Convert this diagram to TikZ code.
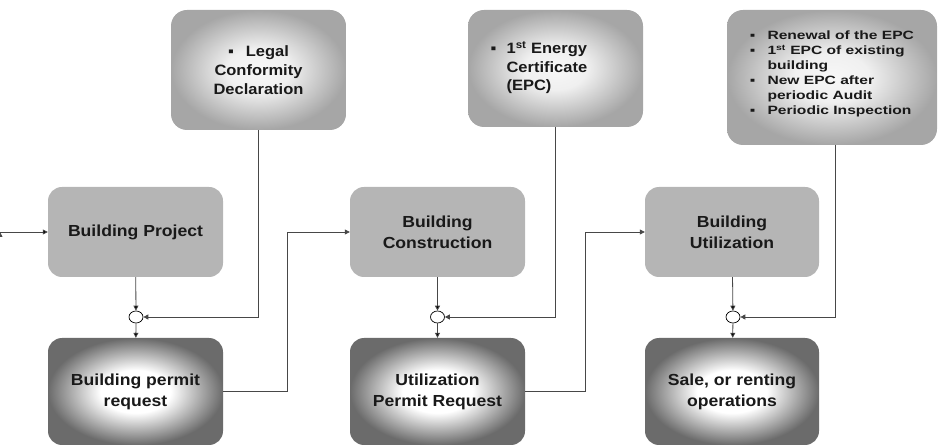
\documentclass[tikz,border=0pt]{standalone}
\usepackage{fontspec}
\setmainfont{Liberation Sans}
\newfontfamily\boxfont[FakeStretch=1.1]{Liberation Sans}
\newfontfamily\listfont[FakeStretch=1.3]{Liberation Sans}
\usetikzlibrary{calc,positioning,arrows.meta,shapes.geometric}

\pgfdeclareradialshading{topglow}{\pgfpoint{0bp}{0bp}}{gray(0bp)=(0.97); gray(9bp)=(0.94); gray(25bp)=(0.65); gray(50bp)=(0.65)}
\pgfdeclareradialshading{lowglow}{\pgfpoint{0bp}{0bp}}{gray(0bp)=(1); gray(10bp)=(1); gray(25bp)=(0.42); gray(50bp)=(0.42)}

\tikzset{
    boxbase/.style={rounded corners=14pt, inner sep=2pt, align=center, text=black!90,
        font=\boxfont\bfseries\fontsize{16}{21}\selectfont},
    stagebox/.style={boxbase, fill=black!29, minimum width=175pt, minimum height=90pt},
    permitbox/.style={boxbase, shading=lowglow, minimum width=175pt, minimum height=107pt},
    notebox/.style={boxbase, rounded corners=16pt, shading=topglow, minimum width=175pt,
        font=\boxfont\bfseries\fontsize{15}{18.7}\selectfont},
    joint/.style={ellipse, draw=black, fill=white, line width=0.7pt, minimum width=14pt,
        minimum height=12pt, inner sep=0pt},
    flow/.style={->, draw=black!72, line width=0.8pt}
}

\begin{document}
\begin{tikzpicture}[x=1pt,y=-1pt,>={Triangle[length=5pt,width=5pt]}]

    \useasboundingbox (0,0) rectangle (938,446);

    % middle row
    \node (proj) [stagebox] at (135.5,232) {Building Project};
    \node (constr) [stagebox] at ($(proj)+(302,0)$) {Building\\Construction};
    \node (util) [stagebox, minimum width=174pt] at ($(constr)+(294.5,0)$) {Building\\Utilization};

    % bottom row
    \node (permit) [permitbox] at ($(proj)+(0,159.5)$) {Building permit\\request};
    \node (utilreq) [permitbox] at ($(constr)+(0,159.5)$) {Utilization\\Permit Request};
    \node (sale) [permitbox, minimum width=174pt] at ($(util)+(0,159.5)$) {Sale, or renting\\operations};

    % junctions
    \node (j1) [joint] at ($(proj)+(0.5,85)$) {};
    \node (j2) [joint] at ($(constr)+(0,85)$) {};
    \node (j3) [joint] at ($(util)+(1,85)$) {};

    % top row
    \node (legal) [notebox, minimum height=120pt] at ($(proj)+(123,-162)$)
        {▪\hspace{12pt}Legal\\Conformity\\Declaration};
    \node (epc) [notebox, minimum height=117pt] at ($(constr)+(118,-163.5)$)
        {\begin{tabular}{@{}l@{\hspace{10pt}}l@{\hspace{33pt}}}
            ▪ & 1\textsuperscript{st} Energy\\
              & Certificate\\
              & (EPC)
        \end{tabular}};
    \node (renew) [notebox, minimum width=210pt, minimum height=135pt,
        font=\listfont\bfseries\fontsize{12}{15}\selectfont] at (832,77.5)
        {\begin{tabular}{@{}l@{\hspace{12pt}}l@{}}
            ▪ & Renewal of the EPC\\
            ▪ & 1\textsuperscript{st} EPC of existing\\
              & building\\
            ▪ & New EPC after\\
              & periodic Audit\\
            ▪ & Periodic Inspection\\[6pt]
        \end{tabular}};

    \coordinate (entry) at (0,232);

    \path[flow]
        (entry) edge (proj.west)

        (proj) edge (j1)
        (j1) edge (permit)

        (constr) edge (j2)
        (j2) edge (utilreq)

        (util) edge (j3)
        (j3) edge (sale)
    ;

    \draw[flow] (legal) |- (j1);
    \draw[flow] (epc) |- (j2);
    \draw[flow] ([xshift=3pt]renew.south) |- (j3);

    \draw[flow] (permit.east) -- ++(64,0) |- (constr.west);
    \draw[flow] (utilreq.east) -- ++(60,0) |- (util.west);
\end{tikzpicture}
\end{document}
